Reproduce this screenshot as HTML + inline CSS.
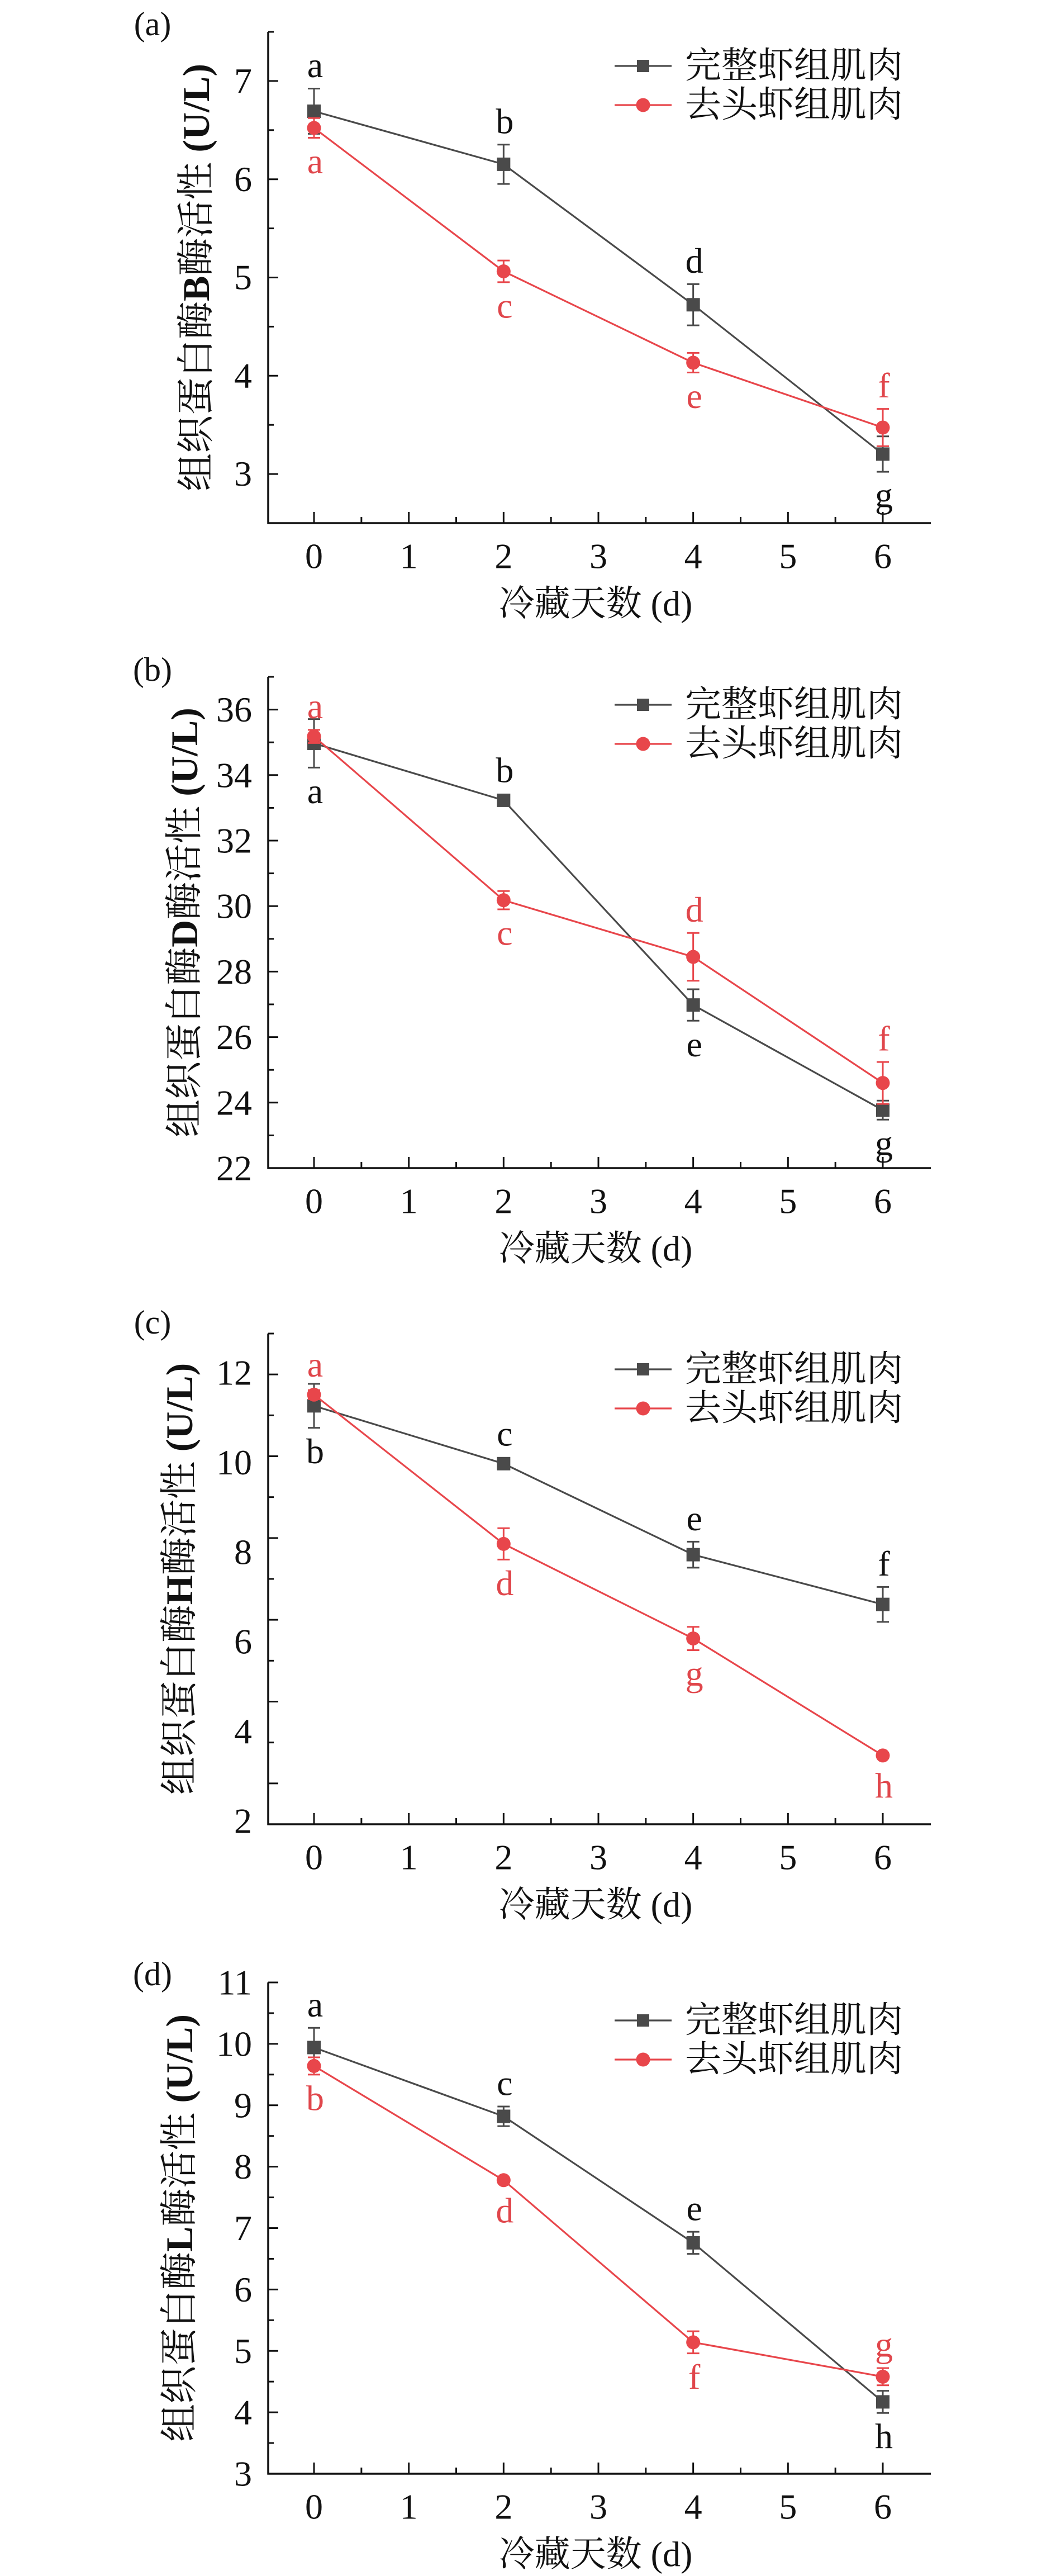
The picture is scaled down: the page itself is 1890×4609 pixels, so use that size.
<!DOCTYPE html>
<html><head><meta charset="utf-8">
<style>
html,body{margin:0;padding:0;background:#fff;}
svg{display:block;}
text{font-family:"Liberation Serif","Noto Serif CJK SC",serif;}
</style></head>
<body>
<svg id="fig" xmlns="http://www.w3.org/2000/svg" width="1890" height="4609" viewBox="0 0 1890 4609"></svg>
<script>
// ---- data ----
const days = [0, 2, 4, 6];
const xTickLabels = ["0","1","2","3","4","5","6"];
const seriesNames = ["完整虾组肌肉", "去头虾组肌肉"];

const aWhole = [6.69, 6.15, 4.72, 3.20];
const aWholeErr = [0.23, 0.20, 0.21, 0.18];
const aHead = [6.52, 5.06, 4.13, 3.47];
const aHeadErr = [0.10, 0.11, 0.10, 0.19];
const aWholeLetters = ["a","b","d","g"];
const aHeadLetters = ["a","c","e","f"];
const aWholePos = ["up","up","up","down"];
const aHeadPos = ["down","down","down","up"];
const aYTicks = [3,4,5,6,7];

const bWhole = [34.97, 33.23, 26.98, 23.77];
const bWholeErr = [0.74, 0.10, 0.48, 0.29];
const bHead = [35.18, 30.18, 28.45, 24.60];
const bHeadErr = [0.20, 0.28, 0.73, 0.64];
const bWholeLetters = ["a","b","e","g"];
const bHeadLetters = ["a","c","d","f"];
const bWholePos = ["down","up","down","down"];
const bHeadPos = ["up","down","up","up"];
const bYTicks = [22,24,26,28,30,32,34,36];

const cWhole = [11.26, 9.97, 7.94, 6.83];
const cWholeErr = [0.49, 0.12, 0.29, 0.39];
const cHead = [11.51, 8.18, 6.07, 3.46];
const cHeadErr = [0.10, 0.35, 0.26, 0.0];
const cWholeLetters = ["b","c","e","f"];
const cHeadLetters = ["a","d","g","h"];
const cWholePos = ["down","up","up","up"];
const cHeadPos = ["up","down","down","down"];
const cYTicks = [2,4,6,8,10,12];

const dWhole = [9.94, 8.82, 6.76, 4.17];
const dWholeErr = [0.32, 0.16, 0.18, 0.18];
const dHead = [9.64, 7.78, 5.14, 4.58];
const dHeadErr = [0.14, 0.02, 0.18, 0.14];
const dWholeLetters = ["a","c","e","h"];
const dHeadLetters = ["b","d","f","g"];
const dWholePos = ["up","up","up","down"];
const dHeadPos = ["down","down","down","up"];
const dYTicks = [3,4,5,6,7,8,9,10,11];

// ---- layout ----
const NS = "http://www.w3.org/2000/svg";
const svg = document.getElementById("fig");
const BLK = "#4a4a4a", RED = "#e8464b";
const AX_L = 480, AX_R = 1666;
function xScale(d){ return 562 + d * (1580 - 562) / 6; }
function el(tag, attrs, parent){
  const e = document.createElementNS(NS, tag);
  for (const k in attrs) e.setAttribute(k, attrs[k]);
  (parent || svg).appendChild(e);
  return e;
}

const panels = [
  {id:"a", enzyme:"B", top:57, bottom:936, tMin:2.5, tMax:7.5, major:1, minor:0.5,
   lab:[7,144.5,3,847.6], ticks:aYTicks, titleX:351, tagY:43, legY:118,
   whole:aWhole, wErr:aWholeErr, head:aHead, hErr:aHeadErr,
   wl:aWholeLetters, hl:aHeadLetters, wp:aWholePos, hp:aHeadPos},
  {id:"b", enzyme:"D", top:1211, bottom:2090, tMin:22, tMax:37, major:2, minor:1,
   lab:null, ticks:bYTicks, titleX:330, tagY:1198, legY:1261,
   whole:bWhole, wErr:bWholeErr, head:bHead, hErr:bHeadErr,
   wl:bWholeLetters, hl:bHeadLetters, wp:bWholePos, hp:bHeadPos},
  {id:"c", enzyme:"H", top:2386, bottom:3264, tMin:1, tMax:13, major:2, minor:1,
   lab:[12,2456,2,3258], ticks:cYTicks, titleX:321, tagY:2366, legY:2450,
   whole:cWhole, wErr:cWholeErr, head:cHead, hErr:cHeadErr,
   wl:cWholeLetters, hl:cHeadLetters, wp:cWholePos, hp:cHeadPos},
  {id:"d", enzyme:"L", top:3547, bottom:4426, tMin:3, tMax:11, major:1, minor:0.5,
   lab:null, ticks:dYTicks, titleX:321, tagY:3532, legY:3615,
   whole:dWhole, wErr:dWholeErr, head:dHead, hErr:dHeadErr,
   wl:dWholeLetters, hl:dHeadLetters, wp:dWholePos, hp:dHeadPos}
];

panels.forEach(p => {
  const g = el("g", {});
  
  
  const tY = v => p.bottom - (v - p.tMin) / (p.tMax - p.tMin) * (p.bottom - p.top);
  const yS = p.lab ? (v => p.lab[1] + (p.lab[0] - v) / (p.lab[0] - p.lab[2]) * (p.lab[3] - p.lab[1])) : tY;

  const tag = el("text", {x:273, y:p.tagY, "font-size":60, "text-anchor":"middle", "dominant-baseline":"central", fill:"#111"}, g);
  tag.textContent = "(" + p.id + ")";
  
  

  const yAxis = el("line", {x1:AX_L, y1:p.top, x2:AX_L, y2:p.bottom+1.5, stroke:"#111", "stroke-width":3.5}, g);
  
  
  const xAxis = el("line", {x1:AX_L-1.5, y1:p.bottom, x2:AX_R, y2:p.bottom, stroke:"#111", "stroke-width":3.5}, g);
  
  

  for (let v = Math.ceil(p.tMin / p.minor) * p.minor; v <= p.tMax + 1e-9; v += p.minor) {
    const y = tY(v);
    if (Math.abs(y - p.bottom) < 2) continue;
    const isMaj = Math.abs(v / p.major - Math.round(v / p.major)) < 1e-6;
    el("line", {x1:AX_L, y1:y, x2:AX_L + (isMaj ? 18 : 10), y2:y, stroke:"#111", "stroke-width":3}, g);
  }
  p.ticks.forEach(v => {
    const t = el("text", {x:451, y:yS(v), "font-size":64, "text-anchor":"end", "dominant-baseline":"central", fill:"#111"}, g);
    t.textContent = String(v);
    
    
  });

  for (let d = 0; d <= 6.01; d += 0.5) {
    const x = xScale(d);
    const isMaj = Math.abs(d - Math.round(d)) < 1e-6;
    el("line", {x1:x, y1:p.bottom, x2:x, y2:p.bottom - (isMaj ? 20 : 11), stroke:"#111", "stroke-width":3}, g);
  }
  xTickLabels.forEach((s, i) => {
    const t = el("text", {x:xScale(i), y:p.bottom + 59, "font-size":64, "text-anchor":"middle", "dominant-baseline":"central", fill:"#111"}, g);
    t.textContent = s;
    
    
  });

  const xt = el("text", {x:1066, y:p.bottom + 144, "font-size":64, "text-anchor":"middle", "dominant-baseline":"central", fill:"#111"}, g);
  xt.textContent = "冷藏天数 (d)";
  
  
  const midY = (p.top + p.bottom) / 2;
  const yt = el("text", {x:p.titleX, y:midY, "font-size":68, "text-anchor":"middle", "dominant-baseline":"central", fill:"#111", transform:"rotate(-90 " + p.titleX + " " + midY + ")"}, g);
  yt.innerHTML = '组织蛋白酶<tspan font-weight="bold">' + p.enzyme + '</tspan>酶活性<tspan font-weight="bold"> (U/L)</tspan>';
  
  

  const series = [
    {vals:p.whole, err:p.wErr, col:BLK, let:p.wl, pos:p.wp, name:"whole", lc:"#111"},
    {vals:p.head, err:p.hErr, col:RED, let:p.hl, pos:p.hp, name:"headless", lc:"#e0464b"}
  ];
  series.forEach(s => {
    const pts = days.map((d, i) => xScale(d) + "," + yS(s.vals[i])).join(" ");
    const line = el("polyline", {points:pts, fill:"none", stroke:s.col, "stroke-width":3.2}, g);
    
    
    days.forEach((d, i) => {
      const x = xScale(d), y = yS(s.vals[i]);
      const y1 = yS(s.vals[i] + s.err[i]), y2 = yS(s.vals[i] - s.err[i]);
      if (s.err[i] > 0.03) {
        el("path", {d:"M"+x+","+y1+"V"+y2+"M"+(x-11)+","+y1+"H"+(x+11)+"M"+(x-11)+","+y2+"H"+(x+11), stroke:s.col, "stroke-width":3, fill:"none"}, g);
      }
      let m;
      if (s.name === "whole") m = el("rect", {x:x-12, y:y-12, width:24, height:24, fill:s.col}, g);
      else m = el("ellipse", {cx:x, cy:y, rx:12.5, ry:12.5, fill:s.col}, g);
      
      
      const up = s.pos[i] === "up";
      const ly = up ? Math.min(y1, y - 12) - 42 : Math.max(y2, y + 12) + 42;
      const t = el("text", {x:x + 2, y:ly, "font-size":64, "text-anchor":"middle", "dominant-baseline":"central", fill:s.lc}, g);
      t.textContent = s.let[i];
      
      
    });
  });

  [0, 1].forEach(k => {
    const y = p.legY + k * 70;
    const col = k === 0 ? BLK : RED;
    const lg = el("g", {}, g);
    
    
    el("line", {x1:1100, y1:y, x2:1202, y2:y, stroke:col, "stroke-width":3.2}, lg);
    if (k === 0) el("rect", {x:1140, y:y-11, width:22, height:22, fill:col}, lg);
    else el("circle", {cx:1151, cy:y, r:12.5, fill:col}, lg);
    const t = el("text", {x:1226, y:y, "font-size":65, "dominant-baseline":"central", fill:"#111"}, lg);
    t.textContent = seriesNames[k];
  });
});
</script>
</body></html>
